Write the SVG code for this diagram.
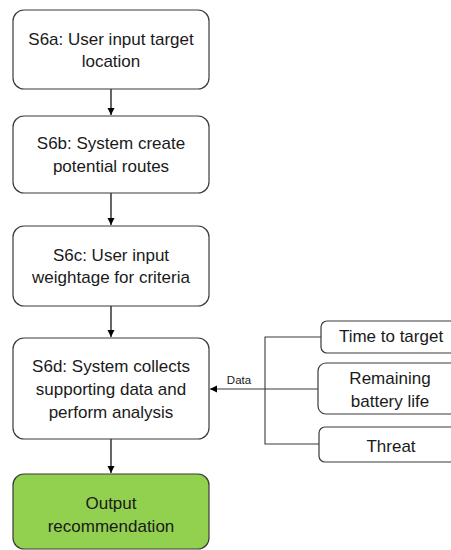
<svg xmlns="http://www.w3.org/2000/svg" width="451" height="550" viewBox="0 0 451 550">
<style>
.box{fill:#fff;stroke:#3a3a3a;stroke-width:1.2}
.green{fill:#92d050;stroke:#3a3a3a;stroke-width:1.2}
.t{font-family:"Liberation Sans",Arial,sans-serif;font-size:17px;fill:#1a1a1a;text-anchor:middle}
.s{font-family:"Liberation Sans",Arial,sans-serif;font-size:11.5px;fill:#1a1a1a;text-anchor:middle}
.c{fill:none;stroke:#000;stroke-width:1.2}
.g{fill:none;stroke:#3a3a3a;stroke-width:1.1}
</style>
<defs>
<marker id="ah" markerWidth="8" markerHeight="8" refX="7" refY="4" orient="auto" markerUnits="userSpaceOnUse">
<path d="M0,0.5 L7,4 L0,7.5 Z" fill="#000"/>
</marker>
</defs>
<rect width="451" height="550" fill="#fff"/>
<g id="connectors">
<line class="c" x1="111" y1="89" x2="111" y2="115" stroke-width="2.2" marker-end="url(#ah)"/>
<line class="c" x1="111" y1="193" x2="111" y2="225" marker-end="url(#ah)"/>
<line class="c" x1="111" y1="306" x2="111" y2="337" marker-end="url(#ah)"/>
<line class="c" x1="111" y1="439" x2="111" y2="473" marker-end="url(#ah)"/>
<polyline class="g" points="321,337 265,337 265,444 319,444"/>
<line class="g" x1="318" y1="389" x2="210" y2="389" marker-end="url(#ah)"/>
<text class="s" x="239" y="384">Data</text>
</g>
<g id="s6a">
<rect class="box" x="13" y="10" width="196" height="79" rx="11"/>
<text class="t" x="111" y="45">S6a: User input target</text>
<text class="t" x="111" y="67">location</text>
</g>
<g id="s6b">
<rect class="box" x="13" y="116" width="196" height="77" rx="11"/>
<text class="t" x="111" y="149">S6b: System create</text>
<text class="t" x="111" y="172">potential routes</text>
</g>
<g id="s6c">
<rect class="box" x="13" y="226" width="196" height="80" rx="11"/>
<text class="t" x="111" y="261">S6c: User input</text>
<text class="t" x="111" y="283">weightage for criteria</text>
</g>
<g id="s6d">
<rect class="box" x="13" y="338" width="196" height="101" rx="11"/>
<text class="t" x="111" y="372">S6d: System collects</text>
<text class="t" x="111" y="395">supporting data and</text>
<text class="t" x="111" y="418">perform analysis</text>
</g>
<g id="output">
<rect class="green" x="13" y="474" width="196" height="75" rx="11"/>
<text class="t" x="111" y="509">Output</text>
<text class="t" x="111" y="532">recommendation</text>
</g>
<g id="time">
<rect class="box" x="321" y="321" width="140" height="32" rx="6"/>
<text class="t" x="391" y="342">Time to target</text>
</g>
<g id="battery">
<rect class="box" x="318" y="363" width="143" height="51" rx="8"/>
<text class="t" x="390" y="384">Remaining</text>
<text class="t" x="390" y="407">battery life</text>
</g>
<g id="threat">
<rect class="box" x="319" y="427" width="142" height="35" rx="6"/>
<text class="t" x="391" y="452">Threat</text>
</g>
</svg>
